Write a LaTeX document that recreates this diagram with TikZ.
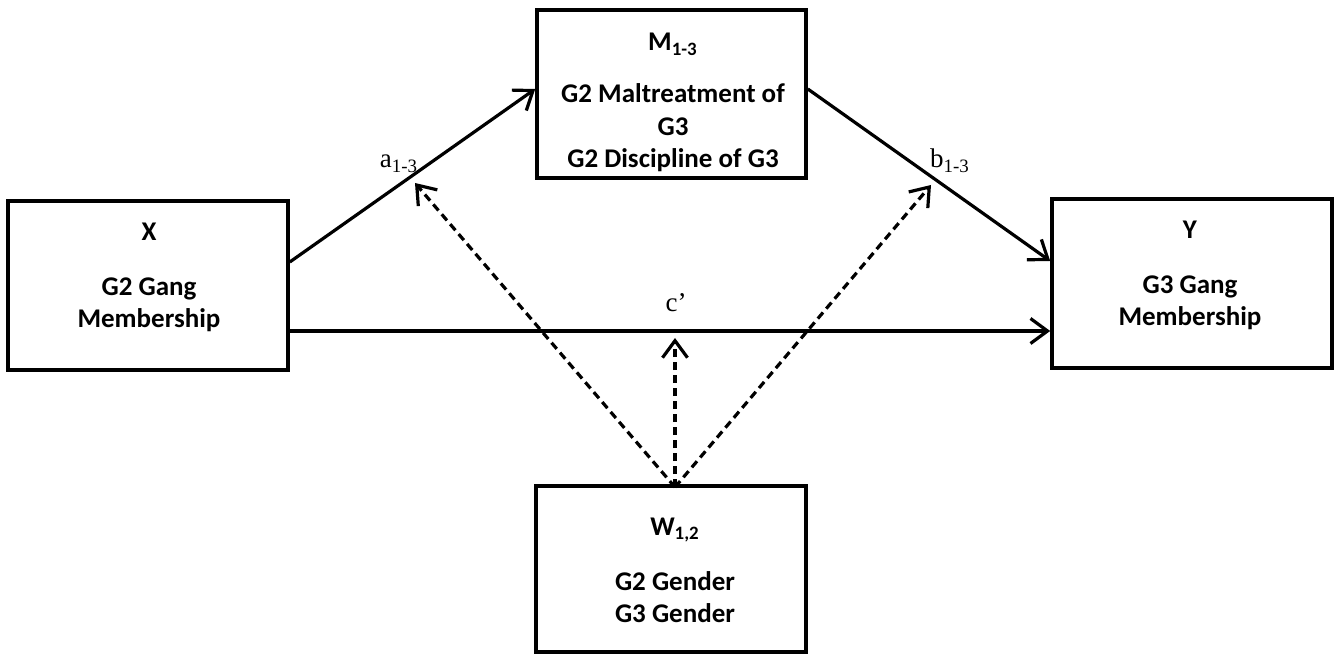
\documentclass[tikz,border=0pt]{standalone}
\usepackage{fontspec}
\setmainfont{Carlito}
\newfontfamily\coeffont{Liberation Serif}
\usetikzlibrary{arrows.meta}
\usetikzlibrary{calc}

\tikzset{
  box/.style={draw, line width=1.8pt, inner sep=0pt},
  boxtext/.style={align=center, anchor=base, inner sep=0pt,
    font=\bfseries\fontsize{13.5}{16.25}\selectfont},
  link/.style={line width=1.6pt,
    -{Straight Barb[length=8.5pt,width=12.5pt,line width=1.6pt]}},
  modlink/.style={link, dash pattern=on 4pt off 2.5pt},
  coef/.style={anchor=base, inner sep=0pt, font=\coeffont\fontsize{13.5}{16}\selectfont}
}

\begin{document}
\begin{tikzpicture}[x=0.5pt, y=-0.5pt]
  \useasboundingbox (0,0) rectangle (1340,656);

  % the four variables
  \node[box, minimum width=140pt, minimum height=84.5pt] (X) at (148,285.5) {};
  \node[box, minimum width=134.5pt, minimum height=84pt] (M) at (671.5,94) {};
  \node[box, minimum width=140pt, minimum height=84.5pt] (Y) at (1192,283.5) {};
  \node[box, minimum width=135pt, minimum height=83pt] (W) at (671,569) {};

  % text sits on the baseline of its last line
  \node[boxtext] (Xtxt) at (149,328) {X\\[11.25pt] G2 Gang\\ Membership};
  \node[boxtext] (Mtxt) at (673,168) {M\textsubscript{1-3}\\[9.75pt] G2 Maltreatment of\\ G3\\ G2 Discipline of G3};
  \node[boxtext] (Ytxt) at (1190,326) {Y\\[11.25pt] G3 Gang\\ Membership};
  \node[boxtext] (Wtxt) at (675,623) {W\textsubscript{1,2}\\[11.25pt] G2 Gender\\ G3 Gender};

  % paths
  \coordinate (cstart) at ([yshift=-22.75pt]X.east);
  \draw[link] ([yshift=11.75pt]X.east) -- ([yshift=2.5pt]M.west);
  \draw[link] ([yshift=2.5pt]M.east) -- ([yshift=11.25pt]Y.west);
  \draw[link] (cstart) -- (Y.west |- cstart);

  \node[coef] (a) at (399,168) {a\textsubscript{1-3}};
  \node[coef] (b) at (950,168) {b\textsubscript{1-3}};
  \node[coef] (c) at (676,312) {c’};

  % moderation
  \coordinate (ta) at (415,183);
  \coordinate (tb) at (931,185);
  \coordinate (tc) at (675,338);
  \draw[modlink] ([xshift=2pt,yshift=-1.5pt]W.north) -- (ta);
  \draw[modlink] ([xshift=2pt,yshift=-1.5pt]W.north) -- (tb);
  \draw[modlink] ([xshift=2pt,yshift=-1.5pt]W.north) -- (tc);
\end{tikzpicture}
\end{document}
